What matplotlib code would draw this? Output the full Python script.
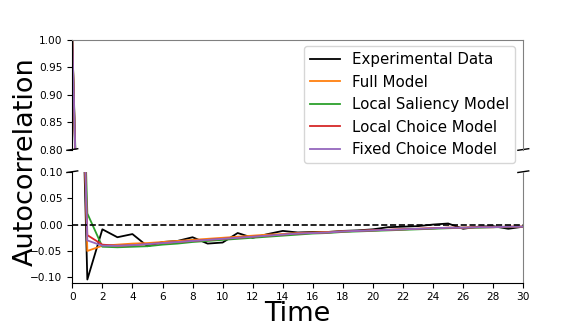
import matplotlib
matplotlib.use("Agg")
import matplotlib.pyplot as plt

lags = list(range(0, 31))

experimental = [1.0, -0.104, -0.009, -0.024, -0.018, -0.041, -0.033, -0.031, -0.024, -0.036,
                -0.034, -0.016, -0.025, -0.018, -0.012, -0.015, -0.014, -0.014, -0.012, -0.011,
                -0.009, -0.005, -0.004, -0.003, 0.000, 0.002, -0.008, -0.004, -0.003, -0.008,
                -0.004]
full_model = [1.0, -0.050, -0.040, -0.038, -0.036, -0.035, -0.033, -0.031, -0.029, -0.027,
              -0.025, -0.023, -0.021, -0.019, -0.018, -0.016, -0.015, -0.014, -0.013, -0.012,
              -0.011, -0.010, -0.009, -0.008, -0.007, -0.006, -0.006, -0.005, -0.005, -0.004,
              -0.004]
local_saliency = [1.0, 0.021, -0.042, -0.043, -0.042, -0.041, -0.038, -0.036, -0.033, -0.031,
                  -0.029, -0.027, -0.025, -0.023, -0.021, -0.019, -0.017, -0.016, -0.014, -0.013,
                  -0.012, -0.011, -0.010, -0.009, -0.008, -0.007, -0.006, -0.006, -0.005, -0.005,
                  -0.004]
local_choice = [1.0, -0.020, -0.038, -0.040, -0.039, -0.037, -0.035, -0.033, -0.031, -0.029,
                -0.027, -0.025, -0.023, -0.021, -0.019, -0.017, -0.016, -0.015, -0.013, -0.012,
                -0.011, -0.010, -0.009, -0.008, -0.007, -0.006, -0.006, -0.005, -0.005, -0.004,
                -0.004]
fixed_choice = [1.0, -0.030, -0.040, -0.040, -0.039, -0.037, -0.035, -0.033, -0.031, -0.029,
                -0.027, -0.025, -0.023, -0.021, -0.019, -0.017, -0.016, -0.015, -0.013, -0.012,
                -0.011, -0.010, -0.009, -0.008, -0.007, -0.006, -0.006, -0.005, -0.005, -0.004,
                -0.004]

series = [
    ("Experimental Data", experimental, "k"),
    ("Full Model", full_model, "C1"),
    ("Local Saliency Model", local_saliency, "C2"),
    ("Local Choice Model", local_choice, "C3"),
    ("Fixed Choice Model", fixed_choice, "C4"),
]

fig = plt.figure(figsize=(5.81, 3.23), dpi=100)
left, width = 72.3 / 581, 451 / 581
ax_top = fig.add_axes([left, 1 - 149.5 / 323, width, 109.5 / 323])
ax_bot = fig.add_axes([left, 1 - 282.7 / 323, width, 111 / 323])

for ax in (ax_top, ax_bot):
    for name, vals, col in series:
        ax.plot(lags, vals, color=col, lw=1.3, label=name)
    ax.axhline(0, color="k", ls="--", lw=1.2)
    ax.set_xlim(0, 30)
    ax.tick_params(labelsize=7.6, length=3.5)
    for s in ("top", "right"):
        ax.spines[s].set_color("0.5")

ax_top.set_ylim(0.8, 1.0)
ax_top.set_yticks([0.80, 0.85, 0.90, 0.95, 1.00])
ax_top.spines["bottom"].set_visible(False)
ax_top.tick_params(axis="x", bottom=False, labelbottom=False)

ax_bot.set_ylim(-0.11, 0.10)
ax_bot.set_yticks([-0.10, -0.05, 0.00, 0.05, 0.10])
ax_bot.spines["top"].set_visible(False)
ax_bot.set_xticks(range(0, 31, 2))
ax_bot.set_xlabel("Time", fontsize=19.5, labelpad=-0.8)

d = 0.012
kw = dict(color="k", clip_on=False, lw=1)
ax_top.plot((-d, d), (-d * 0.6, d * 0.6), transform=ax_top.transAxes, **kw)
ax_top.plot((1 - d, 1 + d), (-d * 0.6, d * 0.6), transform=ax_top.transAxes, **kw)
ax_bot.plot((-d, d), (1 - d * 0.6, 1 + d * 0.6), transform=ax_bot.transAxes, **kw)
ax_bot.plot((1 - d, 1 + d), (1 - d * 0.6, 1 + d * 0.6), transform=ax_bot.transAxes, **kw)

handles, labels = ax_top.get_legend_handles_labels()
ax_top.legend(handles[:5], labels[:5], loc="upper right", fontsize=10.8,
              bbox_to_anchor=(0.982, 0.945), borderaxespad=0.0)

fig.text(0.044, 0.5, "Autocorrelation", rotation=90, fontsize=19.5,
         ha="center", va="center")

fig.savefig("out.png", dpi=100)
